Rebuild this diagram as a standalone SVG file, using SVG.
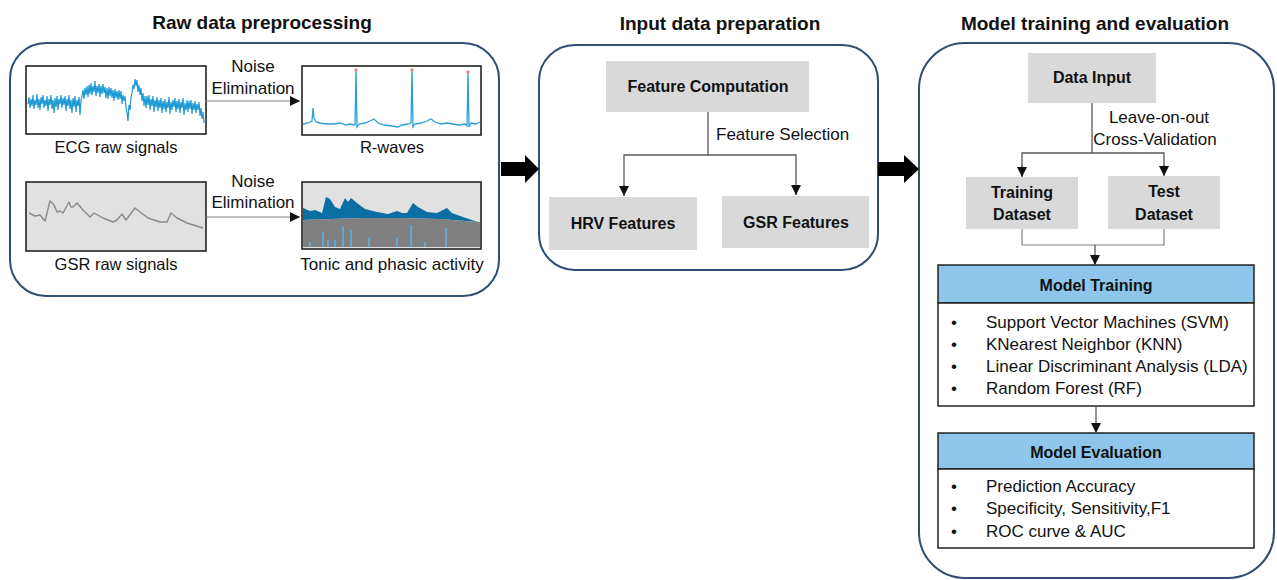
<svg xmlns="http://www.w3.org/2000/svg" width="1277" height="580" viewBox="0 0 1277 580">
<defs>
<style>
text{font-family:"Liberation Sans",Arial,sans-serif;fill:#111;}
.t{font-size:19px;font-weight:bold;text-anchor:middle;}
.r{font-size:17px;}
.s{font-size:16.5px;}
.c{text-anchor:middle;}
.b{font-size:16px;font-weight:bold;text-anchor:middle;}
.panel{fill:#fff;stroke:#2f4d75;stroke-width:2;}
.gbox{fill:#d9d9d9;}
.plot{stroke:#222;stroke-width:1.6;}
.hdr{fill:#8ec5ea;stroke:#222;stroke-width:1.5;}
.body{fill:#fff;stroke:#222;stroke-width:1.5;}
.ln{fill:none;stroke:#595959;stroke-width:1.3;}
.thin{fill:none;stroke:#808080;stroke-width:1.2;}
</style>
<marker id="ah" viewBox="0 0 10 10" refX="10" refY="5" markerWidth="10" markerHeight="10" markerUnits="userSpaceOnUse" orient="auto">
<path d="M0,0 L10,5 L0,10 Z" fill="#111"/>
</marker>
</defs>
<rect width="1277" height="580" fill="#fff"/>

<!-- Panel titles -->
<text class="t" x="262" y="29">Raw data preprocessing</text>
<text class="t" x="720" y="30">Input data preparation</text>
<text class="t" x="1095" y="30">Model training and evaluation</text>

<!-- Panels -->
<g id="panel-raw"><rect class="panel" x="10" y="43" width="489" height="253" rx="36"/></g>
<g id="panel-input"><rect class="panel" x="539" y="45" width="339" height="225" rx="36"/></g>
<g id="panel-model"><rect class="panel" x="919" y="43" width="355" height="535" rx="46"/></g>

<!-- ECG raw -->
<g id="ecg-raw">
<rect class="plot" x="26" y="66" width="180" height="68" fill="#fff"/>
<polyline fill="none" stroke="#1b9ad6" stroke-width="1.2" points="28,104 29,97 30,108 31,99 32,106 33,95 34,109 35,100 36,105 37,94 38,108 39,99 40,110 41,97 42,104 43,95 44,108 45,100 46,106 47,96 48,111 49,99 50,105 51,95 52,109 53,100 54,113 55,98 56,107 57,96 58,110 59,99 60,104 61,95 62,108 63,98 64,105 65,96 66,111 67,99 68,106 69,95 70,109 71,100 72,113 73,98 74,107 75,96 76,112 77,100 78,106 79,97 80,115 81,100 82,96 83,90 84,99 85,88 86,95 87,86 88,97 89,85 90,94 91,83 92,95 93,86 94,92 95,81 96,96 97,86 98,93 99,84 100,97 101,86 102,94 103,84 104,93 105,87 106,98 107,88 108,99 109,87 110,96 111,88 112,98 113,90 114,101 115,89 116,98 117,91 118,100 119,90 120,99 121,91 122,104 123,95 124,101 125,96 126,108 127,112 128,121 129,105 130,110 131,98 132,93 133,85 134,89 135,79 136,86 137,80 138,92 139,85 140,95 141,88 142,101 143,93 144,106 145,96 146,108 147,96 148,105 149,95 150,110 151,99 152,106 153,96 154,112 155,100 156,107 157,97 158,111 159,100 160,108 161,98 162,113 163,101 164,109 165,99 166,112 167,102 168,108 169,97 170,114 171,102 172,110 173,100 174,107 175,98 176,112 177,101 178,109 179,99 180,113 181,102 182,108 183,98 184,115 185,103 186,110 187,100 188,112 189,101 190,109 191,100 192,114 193,103 194,110 195,101 196,113 197,104 198,110 199,102 200,116 201,108 202,119 203,112 204,123"/>
<text class="s c" x="116" y="153">ECG raw signals</text>
</g>

<!-- R-waves -->
<g id="r-waves">
<rect class="plot" x="302" y="66" width="179" height="69" fill="#fff"/>
<polyline fill="none" stroke="#2a9fd8" stroke-width="1.3" points="303,124 308,123 312,121 313,108 314,118 316,122 320,123 326,124 334,124 340,123 346,125 350,124 355,125 356,70 357,127 359,124 365,123 370,121 374,119 378,123 384,125 392,126 398,127 402,125 408,124 411,123 412,70 413,127 415,124 421,123 427,121 431,119 435,122 441,124 447,123 453,124 459,125 465,124 467,126 468,72 469,127 471,123 476,124 480,122"/>
<circle cx="356" cy="70" r="1.8" fill="#f08a8a"/>
<circle cx="412" cy="70" r="1.8" fill="#f08a8a"/>
<circle cx="468" cy="72" r="1.8" fill="#f08a8a"/>
<text class="s c" x="392" y="153">R-waves</text>
</g>

<!-- GSR raw -->
<g id="gsr-raw">
<rect class="plot" x="26" y="182" width="180" height="69" fill="#e1e1e1"/>
<polyline fill="none" stroke="#8a8a8a" stroke-width="1.4" stroke-linejoin="round" points="29,213 35,216 40,215 45,221 50,201 54,205 57,212 60,211 63,213 69,202 71,207 73,207 77,203 83,210 90,217 94,213 103,218 113,222 117,220 122,214 126,220 135,208 140,212 148,218 160,222 167,222 171,213 177,218 187,223 203,228"/>
<text class="s c" x="116" y="270">GSR raw signals</text>
</g>

<!-- Tonic and phasic -->
<g id="tonic-phasic">
<rect x="302" y="182" width="179" height="67" fill="#e1e1e1"/>
<polygon fill="#0b6fa3" points="303,208 310,211 315,210 322,213 326,197 330,199 335,207 340,209 345,198 348,202 351,198 357,203 365,209 377,212 388,214 397,211 402,213 407,213 413,203 418,207 427,212 437,213 447,208 452,213 463,217 478,222 478,222 440,219 400,218 360,218 303,220"/>
<polygon fill="#808080" points="303,220 360,218 400,218 440,219 478,222 480,222 480,247 303,247"/>
<g stroke="#5bb6ee" stroke-width="1.5">
<line x1="310" y1="247" x2="310" y2="242"/>
<line x1="323" y1="247" x2="323" y2="232"/>
<line x1="328" y1="247" x2="328" y2="240"/>
<line x1="335" y1="247" x2="335" y2="240"/>
<line x1="343" y1="247" x2="343" y2="227"/>
<line x1="351" y1="247" x2="351" y2="230"/>
<line x1="369" y1="247" x2="369" y2="238"/>
<line x1="397" y1="247" x2="397" y2="238"/>
<line x1="411" y1="247" x2="411" y2="225"/>
<line x1="425" y1="247" x2="425" y2="242"/>
<line x1="446" y1="247" x2="446" y2="228"/>
</g>
<rect class="plot" x="302" y="182" width="179" height="67" fill="none"/>
<text class="r c" x="392" y="270">Tonic and phasic activity</text>
</g>

<!-- Panel 2 nodes -->
<g id="feature-computation"><rect class="gbox" x="606" y="61" width="203" height="51"/><text class="b" x="708" y="92">Feature Computation</text></g>
<g id="hrv-features"><rect class="gbox" x="549" y="197" width="148" height="53"/><text class="b" x="623" y="229">HRV Features</text></g>
<g id="gsr-features"><rect class="gbox" x="722" y="196" width="147" height="52"/><text class="b" x="796" y="228">GSR Features</text></g>

<!-- Panel 3 nodes -->
<g id="data-input"><rect class="gbox" x="1028" y="53" width="128" height="50"/><text class="b" x="1092" y="83">Data Input</text></g>
<g id="training-dataset"><rect class="gbox" x="966" y="177" width="112" height="52"/><text class="b" x="1022" y="198">Training</text><text class="b" x="1022" y="220">Dataset</text></g>
<g id="test-dataset"><rect class="gbox" x="1108" y="176" width="112" height="53"/><text class="b" x="1164" y="197">Test</text><text class="b" x="1164" y="220">Dataset</text></g>

<g id="model-training">
<rect class="hdr" x="938" y="265" width="316" height="38"/>
<rect class="body" x="938" y="303" width="316" height="103"/>
<text class="b" x="1096" y="291">Model Training</text>
<g class="r">
<text x="951" y="328">•</text><text x="986" y="328">Support Vector Machines (SVM)</text>
<text x="951" y="350">•</text><text x="986" y="350">KNearest Neighbor (KNN)</text>
<text x="951" y="372">•</text><text x="986" y="372">Linear Discriminant Analysis (LDA)</text>
<text x="951" y="394">•</text><text x="986" y="394">Random Forest (RF)</text>
</g>
</g>

<g id="model-evaluation">
<rect class="hdr" x="938" y="433" width="316" height="36"/>
<rect class="body" x="938" y="469" width="316" height="79"/>
<text class="b" x="1096" y="458">Model Evaluation</text>
<g class="r">
<text x="951" y="492">•</text><text x="986" y="492">Prediction Accuracy</text>
<text x="951" y="514">•</text><text x="986" y="514">Specificity, Sensitivity,F1</text>
<text x="951" y="537">•</text><text x="986" y="537">ROC curve &amp; AUC</text>
</g>
</g>

<!-- Connectors -->
<g id="connectors">
<line class="thin" x1="206" y1="101" x2="300" y2="101" marker-end="url(#ah)"/>
<line class="thin" x1="206" y1="217" x2="300" y2="217" marker-end="url(#ah)"/>
<text class="r c" x="253" y="72">Noise</text>
<text class="r c" x="253" y="94">Elimination</text>
<text class="r c" x="253" y="187">Noise</text>
<text class="r c" x="253" y="208">Elimination</text>

<polygon fill="#000" points="501,162 525,162 525,155 539,169 525,183 525,176 501,176"/>
<polygon fill="#000" points="878,162 904,162 904,155 919,169 904,183 904,176 878,176"/>

<line class="ln" x1="708" y1="112" x2="708" y2="155"/>
<polyline class="ln" points="624,195 624,155 796,155 796,195"/>
<line class="ln" x1="624" y1="185" x2="624" y2="196" marker-end="url(#ah)"/>
<line class="ln" x1="796" y1="185" x2="796" y2="195" marker-end="url(#ah)"/>
<text class="r" x="716" y="140">Feature Selection</text>

<line class="ln" x1="1092" y1="103" x2="1092" y2="153"/>
<polyline class="ln" points="1022,176 1022,153 1164,153 1164,175"/>
<line class="ln" x1="1022" y1="165" x2="1022" y2="177" marker-end="url(#ah)"/>
<line class="ln" x1="1164" y1="165" x2="1164" y2="176" marker-end="url(#ah)"/>
<text class="r c" x="1159" y="123">Leave-on-out</text>
<text class="r c" x="1155" y="145">Cross-Validation</text>

<polyline class="thin" points="1022,229 1022,245 1164,245 1164,229"/>
<line class="ln" x1="1095" y1="245" x2="1095" y2="265" marker-end="url(#ah)"/>
<line class="ln" x1="1096" y1="406" x2="1096" y2="433" marker-end="url(#ah)"/>
</g>
</svg>
